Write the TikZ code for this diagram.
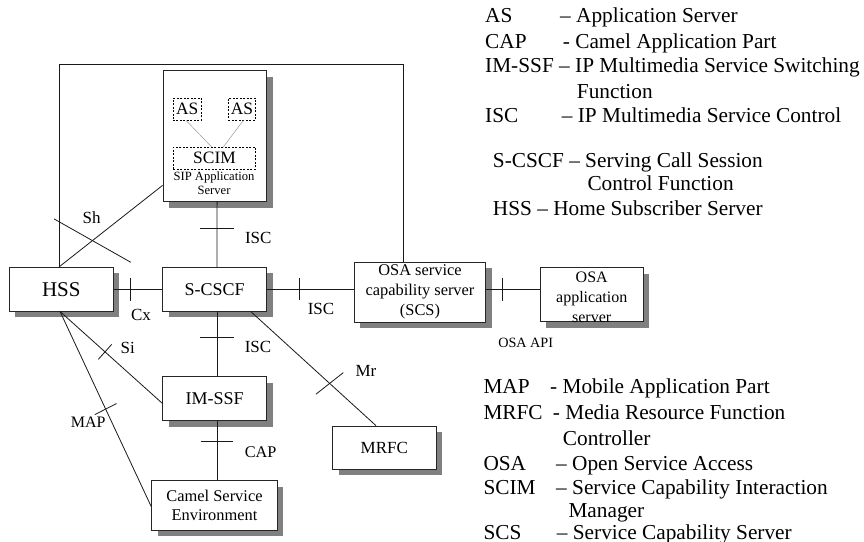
\documentclass[tikz,border=0pt]{standalone}
\usepackage{fontspec}
\setmainfont{Liberation Serif}
\usetikzlibrary{calc,shadows}

\newcommand{\fs}[2]{\fontsize{#1}{#2}\selectfont}

\begin{document}
\begin{tikzpicture}[x=1pt,y=-1pt,
  box/.style={draw=black!85, line width=0.8pt, fill=white, inner sep=0pt,
    drop shadow={shadow xshift=6pt, shadow yshift=-6pt, fill=black!50, opacity=1}},
  dbox/.style={draw=black, dashed, dash pattern=on 2pt off 1.5pt, line width=0.7pt,
    inner sep=0pt, font=\fs{17.4}{20}},
  conn/.style={line width=0.8pt, black!90},
  thin/.style={line width=0.5pt, black!40},
  tick/.style={line width=0.8pt, black!90},
  lab/.style={inner sep=0pt, font=\fs{17}{20}},
  leg/.style={anchor=base west, inner sep=0pt, font=\fs{21.3}{25}}
]
\useasboundingbox (0,0) rectangle (864,541);

% ---------- network elements ----------
\node[box, minimum width=103.7pt, minimum height=131pt] (sip) at (214.8,136.2) {};
\node[dbox, minimum width=28.7pt, minimum height=21.7pt] (as1) at (187.3,109.2) {AS};
\node[dbox, minimum width=27.4pt, minimum height=21.7pt] (as2) at (242,109.2) {AS};
\node[dbox, minimum width=82.4pt, minimum height=21.7pt] (scim) at (214.5,158.2) {SCIM};
\node[inner sep=0pt, align=center, font=\fs{12.6}{14}] (siptext) at (214,183.5) {SIP Application\\Server};

\node[box, minimum width=104pt, minimum height=43.7pt, font=\fs{21}{24}] (hss) at (61.3,289.2) {HSS};
\node[box, minimum width=104pt, minimum height=43.7pt, font=\fs{18}{21}] (scscf) at (214.7,289.2) {S-CSCF};
\node[box, minimum width=131.4pt, minimum height=60.3pt, align=center, font=\fs{16.4}{20}] (scs) at (420,292.2) {OSA service\\capability server\\(SCS)};
\node[box, minimum width=103.3pt, minimum height=54pt,
  label={[inner sep=0pt, align=center, font=\fs{16}{20}, yshift=-2.5pt]center:OSA\\application\\server}] (osaapp) at (591.7,294.7) {};
\node[box, minimum width=104pt, minimum height=44pt, font=\fs{18}{21}] (imssf) at (214.7,398.7) {IM-SSF};
\node[box, minimum width=103.3pt, minimum height=43.3pt, font=\fs{17}{20}] (mrfc) at (384.3,447.7) {MRFC};
\node[box, minimum width=125.6pt, minimum height=49.3pt, align=center, font=\fs{16.4}{19.7}] (camel) at (214.5,505.3) {Camel Service\\Environment};

% ---------- links inside the application server ----------
\draw[thin] ([xshift=-1.3pt]as1.south) -- ([xshift=-2.8pt]scim.north);
\draw[thin] ([xshift=1.3pt]as2.south) -- ([xshift=8.8pt]scim.north);

% ---------- interfaces ----------
\coordinate (tl) at (59,64.3);
\coordinate (tr) at (403.3,64.3);
\draw[conn] ([xshift=-2.3pt]hss.north) -- (tl) -- (tr) -- (tr |- scs.north);

% Sh
\draw[conn] ([yshift=16.7pt]sip.south west) -- coordinate[pos=0.677] (tsh) ([xshift=-2.3pt]hss.north);
\draw[tick] ([shift={(-38.4,-21.7)}]tsh) -- ([shift={(38.4,21.7)}]tsh);

% ISC (AS - S-CSCF)
\draw[conn] ([xshift=2.3pt]sip.south) -- coordinate[pos=0.405] (tisc1) ([xshift=2.3pt]scscf.north);
\draw[tick] ([shift={(-16.7,0)}]tisc1) -- ([shift={(16.7,0)}]tisc1);

% Cx
\draw[conn] (hss.east) -- coordinate[pos=0.338] (tcx) (scscf.west);
\draw[tick] ([shift={(0,-11.3)}]tcx) -- ([shift={(0,11.3)}]tcx);

% ISC (S-CSCF - SCS)
\draw[conn] (scscf.east) -- coordinate[pos=0.372] (tisc2) (scscf.east -| scs.west);
\draw[tick] ([shift={(0,-11)}]tisc2) -- ([shift={(0,11)}]tisc2);

% OSA API
\draw[conn] (scscf.east -| scs.east) -- coordinate[pos=0.295] (tapi) (scscf.east -| osaapp.west);
\draw[tick] ([shift={(0,-11.3)}]tapi) -- ([shift={(0,11.3)}]tapi);

% ISC (S-CSCF - IM-SSF)
\draw[conn] ([xshift=2.3pt]scscf.south) -- coordinate[pos=0.4] (tisc3) ([xshift=2.3pt]imssf.north);
\draw[tick] ([shift={(-16.7,0)}]tisc3) -- ([shift={(16.7,0)}]tisc3);

% CAP
\draw[conn] ([xshift=2.3pt]imssf.south) -- coordinate[pos=0.338] (tcap) ([xshift=2.5pt]camel.north);
\draw[tick] ([shift={(-16.3,0)}]tcap) -- ([shift={(16.3,0)}]tcap);

% Si
\draw[conn] ([xshift=-1.3pt]hss.south) -- coordinate[pos=0.44] (tsi) ([yshift=-4.6pt]imssf.west);
\draw[tick] ([shift={(-6.7,7.5)}]tsi) -- ([shift={(6.7,-7.5)}]tsi);

% MAP
\draw[conn] ([xshift=-1.3pt]hss.south) -- coordinate[pos=0.5] (tmap) ([yshift=-1.4pt]camel.west);
\draw[tick] ([shift={(-10.8,5.5)}]tmap) -- ([shift={(10.8,-5.5)}]tmap);

% Mr
\draw[conn] ([xshift=36pt]scscf.south) -- coordinate[pos=0.63] (tmr) ([xshift=-8.3pt]mrfc.north);
\draw[tick] ([shift={(-13.7,10.8)}]tmr) -- ([shift={(13.7,-10.8)}]tmr);

% ---------- interface labels ----------
\node[lab] (lsh) at (91.7,217.3) {Sh};
\node[lab] (lisc1) at (258.3,238.3) {ISC};
\node[lab] (lcx) at (141,315) {Cx};
\node[lab] (lisc2) at (321,309.3) {ISC};
\node[lab] (lisc3) at (258,347.3) {ISC};
\node[lab] (lsi) at (127.7,348.3) {Si};
\node[lab, font=\fs{16}{19}] (lmap) at (88.3,422.7) {MAP};
\node[lab, font=\fs{16.3}{19}] (lcap) at (260.7,451.7) {CAP};
\node[lab] (lmr) at (366,370.7) {Mr};
\node[lab, font=\fs{14.2}{17}] (lapi) at (525.7,342.7) {OSA API};

% ---------- abbreviations ----------
\node[leg] (a1) at (485,22) {AS};
\node[leg] (a1d) at (560,22) {– Application Server};
\node[leg] (a2) at (485,48.7) {CAP};
\node[leg] (a2d) at (562.7,48.7) {- Camel Application Part};
\node[leg] (a3) at (485,72) {IM-SSF – IP Multimedia Service Switching};
\node[leg] (a3d) at (576.7,98.7) {Function};
\node[leg] (a4) at (485,122) {ISC};
\node[leg] (a4d) at (561.7,122) {– IP Multimedia Service Control};
\node[leg] (a5) at (492.7,167) {S-CSCF – Serving Call Session};
\node[leg] (a5d) at (587.3,190.3) {Control Function};
\node[leg] (a6) at (492.7,215.3) {HSS – Home Subscriber Server};

\node[leg] (b1) at (483.3,393.7) {MAP};
\node[leg] (b1d) at (550,393.7) {- Mobile Application Part};
\node[leg] (b2) at (483.3,419.7) {MRFC};
\node[leg] (b2d) at (552.7,419.7) {- Media Resource Function};
\node[leg] (b2e) at (562.7,445.3) {Controller};
\node[leg] (b3) at (483.3,470.3) {OSA};
\node[leg] (b3d) at (556,470.3) {– Open Service Access};
\node[leg] (b4) at (483.3,494.8) {SCIM};
\node[leg] (b4d) at (556,494.8) {– Service Capability Interaction};
\node[leg] (b4e) at (568.3,517.3) {Manager};
\node[leg] (b5) at (483.3,539.3) {SCS};
\node[leg] (b5d) at (556.7,539.3) {– Service Capability Server};
\end{tikzpicture}
\end{document}
